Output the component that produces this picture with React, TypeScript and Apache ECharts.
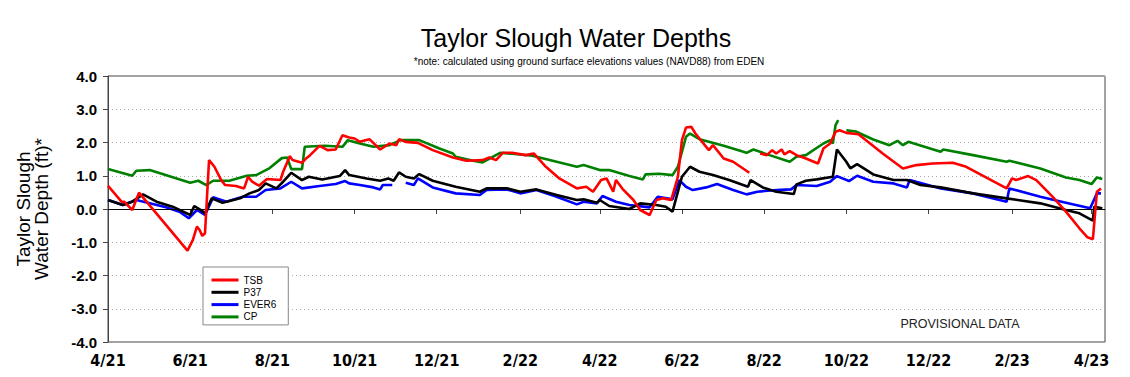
import React, { useEffect, useRef } from "react";
import * as echarts from "echarts";

type Pt = [string, number | null];

const TITLE = "Taylor Slough Water Depths";
const SUBTITLE = "*note: calculated using ground surface elevations values (NAVD88) from EDEN";
const Y_NAME = "Taylor Slough\nWater Depth (ft)*";
const NOTE = "PROVISIONAL DATA";

const X_MIN = "2021-04-01";
const X_MAX = "2023-04-11";
const X_TICKS = [
  "2021-04-01", "2021-06-01", "2021-08-01", "2021-10-01", "2021-12-01",
  "2022-02-01", "2022-04-01", "2022-06-01", "2022-08-01", "2022-10-01",
  "2022-12-01", "2023-02-01", "2023-04-01",
];

const TSB: Pt[] = [
  ["2021-04-01", 0.7], ["2021-04-11", 0.22], ["2021-04-13", 0.22], ["2021-04-19", -0.03],
  ["2021-04-24", 0.49], ["2021-05-30", -1.25], ["2021-06-03", -0.93], ["2021-06-06", -0.53],
  ["2021-06-08", -0.63], ["2021-06-10", -0.81], ["2021-06-12", -0.73], ["2021-06-15", 1.47],
  ["2021-06-19", 1.27], ["2021-06-24", 0.87], ["2021-06-27", 0.72], ["2021-07-05", 0.69],
  ["2021-07-11", 0.62], ["2021-07-14", 0.97], ["2021-07-17", 0.82], ["2021-07-22", 0.7],
  ["2021-07-28", 0.9], ["2021-08-07", 0.87], ["2021-08-09", 1.12], ["2021-08-14", 1.59],
  ["2021-08-16", 1.47], ["2021-08-23", 1.39], ["2021-08-26", 1.52], ["2021-08-29", 1.62],
  ["2021-09-05", 1.9], ["2021-09-11", 1.77], ["2021-09-17", 1.79], ["2021-09-22", 2.22],
  ["2021-09-27", 2.15], ["2021-10-01", 2.12], ["2021-10-05", 2.02], ["2021-10-09", 2.07],
  ["2021-10-12", 2.1], ["2021-10-20", 1.79], ["2021-10-27", 1.97], ["2021-11-01", 1.92],
  ["2021-11-03", 2.1], ["2021-11-08", 2.02], ["2021-11-17", 1.99], ["2021-11-28", 1.77],
  ["2021-12-13", 1.55], ["2021-12-23", 1.45], ["2022-01-04", 1.47], ["2022-01-09", 1.55],
  ["2022-01-14", 1.47], ["2022-01-19", 1.69], ["2022-01-26", 1.69], ["2022-02-05", 1.62],
  ["2022-02-11", 1.67], ["2022-02-20", 1.27], ["2022-03-02", 0.92], ["2022-03-15", 0.62],
  ["2022-03-22", 0.67], ["2022-03-27", 0.52], ["2022-04-02", 0.87], ["2022-04-06", 0.92],
  ["2022-04-11", 0.52], ["2022-04-13", 0.87], ["2022-04-18", 0.6], ["2022-04-26", 0.27],
  ["2022-05-01", -0.03], ["2022-05-08", -0.18], ["2022-05-13", 0.27], ["2022-05-18", 0.32],
  ["2022-05-24", 0.27], ["2022-05-29", 0.97], ["2022-06-01", 2.07], ["2022-06-04", 2.45],
  ["2022-06-08", 2.47], ["2022-06-11", 2.27], ["2022-06-19", 1.87], ["2022-06-21", 1.77],
  ["2022-06-24", 1.92], ["2022-07-02", 1.52], ["2022-07-09", 1.42], ["2022-07-21", 1.09],
  ["2022-07-25", null],
  ["2022-07-29", 1.67], ["2022-08-03", 1.62], ["2022-08-07", 1.77], ["2022-08-10", 1.67],
  ["2022-08-14", 1.79], ["2022-08-16", 1.64], ["2022-08-20", 1.74], ["2022-08-25", 1.62],
  ["2022-09-01", 1.52], ["2022-09-10", 1.37], ["2022-09-14", 1.82], ["2022-09-19", 1.97],
  ["2022-09-23", 2.32], ["2022-09-26", 2.37], ["2022-10-01", 2.29], ["2022-10-10", 2.25],
  ["2022-10-28", 1.67], ["2022-11-12", 1.22], ["2022-11-22", 1.32], ["2022-12-04", 1.37],
  ["2022-12-19", 1.39], ["2022-12-29", 1.27], ["2023-01-28", 0.62], ["2023-02-01", 0.92],
  ["2023-02-04", 0.87], ["2023-02-13", 0.99], ["2023-02-19", 0.87], ["2023-03-03", 0.37],
  ["2023-03-13", -0.08], ["2023-03-23", -0.58], ["2023-03-29", -0.85], ["2023-04-02", -0.91],
  ["2023-04-05", 0.52], ["2023-04-08", 0.62],
];

const P37: Pt[] = [
  ["2021-04-01", 0.27], ["2021-04-12", 0.12], ["2021-04-19", 0.22], ["2021-04-27", 0.44],
  ["2021-05-07", 0.22], ["2021-05-19", 0.07], ["2021-06-01", -0.18], ["2021-06-04", 0.09],
  ["2021-06-09", -0.03], ["2021-06-12", -0.13], ["2021-06-17", 0.32], ["2021-06-25", 0.19],
  ["2021-07-08", 0.32], ["2021-07-15", 0.47], ["2021-07-22", 0.57], ["2021-07-27", 0.77],
  ["2021-08-04", 0.62], ["2021-08-09", 0.82], ["2021-08-15", 1.09], ["2021-08-23", 0.87],
  ["2021-08-28", 0.97], ["2021-09-07", 0.89], ["2021-09-20", 0.99], ["2021-09-24", 1.17],
  ["2021-09-27", 1.02], ["2021-10-10", 0.92], ["2021-10-20", 0.85], ["2021-10-26", 0.92],
  ["2021-10-30", 0.85], ["2021-11-03", 1.1], ["2021-11-08", 0.97], ["2021-11-14", 0.92],
  ["2021-11-18", 1.05], ["2021-11-28", 0.85], ["2021-12-15", 0.67], ["2022-01-02", 0.52],
  ["2022-01-07", 0.62], ["2022-01-22", 0.62], ["2022-02-01", 0.52], ["2022-02-13", 0.59],
  ["2022-02-28", 0.42], ["2022-03-15", 0.27], ["2022-03-20", 0.29], ["2022-03-30", 0.19],
  ["2022-04-01", 0.27], ["2022-04-08", 0.09], ["2022-04-23", 0.0], ["2022-05-01", 0.17],
  ["2022-05-13", 0.12], ["2022-05-20", 0.07], ["2022-05-25", -0.08], ["2022-05-29", 0.52],
  ["2022-06-01", 0.97], ["2022-06-07", 1.27], ["2022-06-14", 1.12], ["2022-06-24", 1.02],
  ["2022-07-06", 0.87], ["2022-07-20", 0.67], ["2022-07-22", 0.87], ["2022-07-31", 0.65],
  ["2022-08-10", 0.52], ["2022-08-23", 0.45], ["2022-08-25", 0.74], ["2022-09-01", 0.85],
  ["2022-09-09", 0.89], ["2022-09-21", 0.97], ["2022-09-24", 1.79], ["2022-10-01", 1.42],
  ["2022-10-04", 1.22], ["2022-10-09", 1.35], ["2022-10-21", 1.04], ["2022-11-05", 0.87],
  ["2022-11-15", 0.87], ["2022-11-25", 0.72], ["2022-12-10", 0.65], ["2023-01-03", 0.47],
  ["2023-01-28", 0.32], ["2023-02-22", 0.17], ["2023-03-13", -0.03], ["2023-03-23", -0.13],
  ["2023-04-02", -0.35], ["2023-04-03", 0.07], ["2023-04-09", 0.02],
];

const EVER6: Pt[] = [
  ["2021-04-01", 0.27], ["2021-04-12", 0.12], ["2021-04-22", 0.27], ["2021-05-02", 0.17],
  ["2021-05-14", 0.05], ["2021-05-24", -0.08], ["2021-05-31", -0.28], ["2021-06-06", -0.03],
  ["2021-06-12", -0.18], ["2021-06-18", 0.35], ["2021-06-28", 0.22], ["2021-07-10", 0.37],
  ["2021-07-20", 0.37], ["2021-07-27", 0.57], ["2021-08-07", 0.62], ["2021-08-15", 0.82],
  ["2021-08-23", 0.62], ["2021-09-05", 0.69], ["2021-09-17", 0.75], ["2021-09-24", 0.84],
  ["2021-09-27", 0.77], ["2021-10-05", 0.72], ["2021-10-15", 0.65], ["2021-10-20", 0.59],
  ["2021-10-22", 0.72], ["2021-10-29", 0.72],
  ["2021-11-03", null],
  ["2021-11-08", 0.79], ["2021-11-14", 0.72], ["2021-11-17", 0.92], ["2021-11-28", 0.65],
  ["2021-12-15", 0.47], ["2022-01-02", 0.42], ["2022-01-07", 0.57], ["2022-01-22", 0.59],
  ["2022-02-01", 0.47], ["2022-02-13", 0.57], ["2022-02-28", 0.37], ["2022-03-15", 0.14],
  ["2022-03-20", 0.22], ["2022-03-30", 0.17], ["2022-04-03", 0.39], ["2022-04-13", 0.22],
  ["2022-04-23", 0.12], ["2022-05-08", 0.05], ["2022-05-14", 0.37], ["2022-05-25", 0.29],
  ["2022-05-30", 0.87], ["2022-06-04", 0.67], ["2022-06-09", 0.57], ["2022-06-19", 0.65],
  ["2022-06-27", 0.75], ["2022-07-09", 0.57], ["2022-07-19", 0.44], ["2022-07-27", 0.52],
  ["2022-08-10", 0.57], ["2022-08-21", 0.59], ["2022-08-25", 0.72], ["2022-09-09", 0.69],
  ["2022-09-19", 0.82], ["2022-09-24", 0.99], ["2022-10-03", 0.84], ["2022-10-09", 1.0],
  ["2022-10-21", 0.82], ["2022-11-05", 0.77], ["2022-11-15", 0.65], ["2022-11-17", 0.87],
  ["2022-12-10", 0.62], ["2023-01-03", 0.47], ["2023-01-28", 0.22], ["2023-01-30", 0.62],
  ["2023-02-22", 0.37], ["2023-03-13", 0.19], ["2023-03-31", 0.02], ["2023-04-05", 0.47],
  ["2023-04-08", 0.47],
];

const CP: Pt[] = [
  ["2021-04-01", 1.2], ["2021-04-19", 1.0], ["2021-04-22", 1.15], ["2021-05-02", 1.17],
  ["2021-06-01", 0.79], ["2021-06-07", 0.85], ["2021-06-13", 0.72], ["2021-06-18", 0.85],
  ["2021-06-30", 0.85], ["2021-07-13", 1.0], ["2021-07-20", 1.02], ["2021-07-30", 1.23],
  ["2021-08-08", 1.53], ["2021-08-12", 1.55], ["2021-08-15", 1.2], ["2021-08-23", 1.2],
  ["2021-08-25", 1.87], ["2021-09-09", 1.9], ["2021-09-22", 1.87], ["2021-09-26", 2.07],
  ["2021-10-05", 1.97], ["2021-10-15", 1.87], ["2021-10-27", 1.92], ["2021-11-04", 2.07],
  ["2021-11-18", 2.07], ["2021-12-03", 1.82], ["2021-12-13", 1.67], ["2021-12-15", 1.57],
  ["2021-12-28", 1.45], ["2022-01-04", 1.4], ["2022-01-17", 1.69], ["2022-01-26", 1.66],
  ["2022-02-10", 1.6], ["2022-02-28", 1.42], ["2022-03-15", 1.27], ["2022-03-20", 1.32],
  ["2022-04-01", 1.17], ["2022-04-08", 1.17], ["2022-04-23", 0.99], ["2022-05-03", 0.89],
  ["2022-05-05", 1.04], ["2022-05-15", 1.06], ["2022-05-25", 1.02], ["2022-05-29", 1.27],
  ["2022-06-04", 2.17], ["2022-06-07", 2.27], ["2022-06-14", 2.1], ["2022-07-02", 1.9],
  ["2022-07-19", 1.69], ["2022-07-24", 1.79], ["2022-08-05", 1.62], ["2022-08-20", 1.42],
  ["2022-08-25", 1.57], ["2022-09-01", 1.62], ["2022-09-14", 1.97], ["2022-09-19", 2.07],
  ["2022-09-21", 1.97], ["2022-09-23", 2.52], ["2022-09-25", 2.67],
  ["2022-09-28", null],
  ["2022-10-01", 2.37], ["2022-10-08", 2.33], ["2022-10-21", 2.09], ["2022-11-02", 1.92],
  ["2022-11-08", 2.05], ["2022-11-12", 1.92], ["2022-11-16", 2.02], ["2022-12-10", 1.72],
  ["2022-12-12", 1.79], ["2023-01-03", 1.62], ["2023-01-28", 1.42], ["2023-01-30", 1.45],
  ["2023-02-22", 1.22], ["2023-03-13", 0.95], ["2023-03-23", 0.87], ["2023-04-01", 0.75],
  ["2023-04-05", 0.95], ["2023-04-09", 0.9],
];

const SERIES_NAMES = ["TSB", "P37", "EVER6", "CP"];
const SERIES_DATA = [TSB, P37, EVER6, CP];
const SERIES_COLORS = ["#ff0000", "#000000", "#0000ff", "#008000"];
const SERIES_Z = [5, 4, 3, 2];

const FONT = "'Liberation Sans', Arial, sans-serif";

function toTime(s: string): number {
  const [y, m, d] = s.split("-").map(Number);
  return Date.UTC(y, m - 1, d);
}

export default function App() {
  const ref = useRef<HTMLDivElement>(null);
  useEffect(() => {
    if (!ref.current) return;
    const chart = echarts.init(ref.current, null, { renderer: "svg" });
    const tickTimes = X_TICKS.map(toTime);
    const option: any = {
      animation: false,
      backgroundColor: "#ffffff",
      grid: {
        left: 108,
        right: 25,
        top: 76,
        bottom: 35,
        show: true,
        borderColor: "#444",
        borderWidth: 1,
        containLabel: false,
      },
      graphic: [
        {
          type: "text",
          x: 576,
          y: 38,
          style: { text: TITLE, fontSize: 25, fontFamily: FONT, fill: "#000", align: "center", verticalAlign: "middle" },
        },
        {
          type: "text",
          x: 589,
          y: 61.5,
          style: { text: SUBTITLE, fontSize: 10, fontFamily: FONT, fill: "#000", align: "center", verticalAlign: "middle" },
        },
        {
          type: "text",
          x: 960,
          y: 324,
          z: 10,
          style: { text: NOTE, fontSize: 12.5, fontFamily: FONT, fill: "#222", align: "center", verticalAlign: "middle" },
        },
      ],
      legend: {
        data: SERIES_NAMES,
        orient: "vertical",
        left: 203,
        top: 267,
        padding: [8, 12, 3, 7],
        itemGap: 2.3,
        itemWidth: 27,
        itemHeight: 10,
        backgroundColor: "#fff",
        borderColor: "#888",
        borderWidth: 1,
        borderRadius: 0,
        itemStyle: { opacity: 0 },
        lineStyle: { width: 3 },
        textStyle: { fontSize: 10, fontFamily: FONT, color: "#000" },
        z: 10,
      },
      xAxis: {
        type: "value",
        min: toTime(X_MIN),
        max: toTime(X_MAX),
        axisLine: { show: true, lineStyle: { color: "#444", width: 1 } },
        axisTick: { show: true, length: 5, lineStyle: { color: "#444" }, customValues: tickTimes },
        axisLabel: {
          customValues: tickTimes,
          fontSize: 16,
          fontWeight: "bold",
          fontFamily: "'Liberation Sans Narrow', 'DejaVu Sans Condensed', Arial, sans-serif",
          color: "#000",
          margin: 10,
          formatter: (v: number) => {
            const d = new Date(v);
            return `${d.getUTCMonth() + 1}/${String(d.getUTCFullYear()).slice(2)}`;
          },
        },
        splitLine: { show: false },
      },
      yAxis: {
        type: "value",
        min: -4,
        max: 4,
        interval: 1,
        name: Y_NAME,
        nameLocation: "middle",
        nameRotate: 90,
        nameGap: 58,
        nameTextStyle: { fontSize: 19, lineHeight: 18, fontFamily: FONT, color: "#000", align: "center" },
        axisLine: { show: true, lineStyle: { color: "#444", width: 1 } },
        axisTick: { show: true, length: 5, lineStyle: { color: "#444" } },
        axisLabel: {
          fontSize: 15,
          fontWeight: "bold",
          fontFamily: FONT,
          color: "#000",
          margin: 11,
          formatter: (v: number) => v.toFixed(1),
        },
        splitLine: { show: true, lineStyle: { color: "#aaa", type: [1, 3], width: 1 } },
      },
      series: SERIES_NAMES.map((name, i) => ({
        name,
        type: "line",
        data: SERIES_DATA[i].map(([d, v]) => [toTime(d), v]),
        showSymbol: false,
        symbol: "none",
        z: SERIES_Z[i],
        connectNulls: false,
        color: SERIES_COLORS[i],
        lineStyle: { color: SERIES_COLORS[i], width: 2.6 },
        ...(i === 3
          ? {
              markLine: {
                silent: true,
                symbol: ["none", "none"],
                label: { show: false },
                lineStyle: { color: "#000", width: 1, type: "solid" },
                data: [{ yAxis: 0 }],
              },
            }
          : {}),
      })),
    };
    chart.setOption(option);
    return () => chart.dispose();
  }, []);
  return <div ref={ref} style={{ width: 1130, height: 377, margin: -8 }} />;
}
